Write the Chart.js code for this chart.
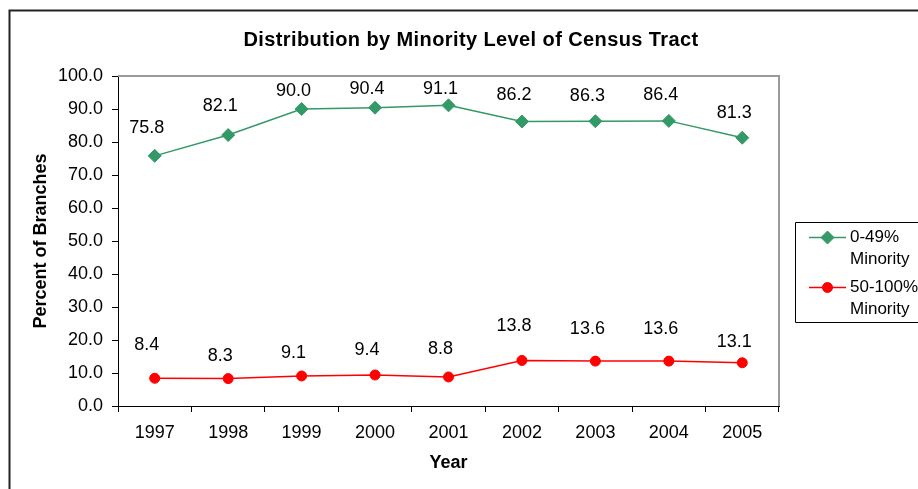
<!DOCTYPE html>
<html>
<head>
<meta charset="utf-8">
<script src="https://cdn.jsdelivr.net/npm/chart.js@4"></script>
<style>
  html, body { margin: 0; padding: 0; background: #fff; }
  canvas { display: block; }
</style>
</head>
<body>
<canvas id="chart" width="918" height="489"></canvas>
<script>
// Share of branches by census-tract minority level, 1997-2005
const years = ['1997', '1998', '1999', '2000', '2001', '2002', '2003', '2004', '2005'];
const lowMinority = [75.8, 82.1, 90.0, 90.4, 91.1, 86.2, 86.3, 86.4, 81.3];
const highMinority = [8.4, 8.3, 9.1, 9.4, 8.8, 13.8, 13.6, 13.6, 13.1];
const seriesNames = [['0-49%', 'Minority'], ['50-100%', 'Minority']];
const chartTitle = 'Distribution by Minority Level of Census Tract';

// how far (px) each value label sits above its point
const lowLabelRaise = [28, 29, 18, 19, 16, 27, 25, 26, 25];
const highLabelRaise = [33, 23, 23, 25, 28, 34, 32, 32, 21];

const FONT = '"Liberation Sans", Arial, Helvetica, sans-serif';
Chart.defaults.font.family = FONT;
Chart.defaults.font.size = 18;
Chart.defaults.color = '#000';

// white page, outer frame and chart heading
const framePlugin = {
  id: 'frame',
  beforeDraw(chart) {
    const ctx = chart.ctx;
    ctx.save();
    ctx.fillStyle = '#fff';
    ctx.fillRect(0, 0, chart.width, chart.height);
    ctx.strokeStyle = '#222';
    ctx.lineWidth = 2;
    ctx.beginPath();
    ctx.moveTo(9.5, chart.height);
    ctx.lineTo(9.5, 10.5);
    ctx.lineTo(chart.width, 10.5);
    ctx.stroke();
    ctx.fillStyle = '#000';
    ctx.font = 'bold 20px ' + FONT;
    if ('letterSpacing' in ctx) ctx.letterSpacing = '0.4px';
    ctx.textAlign = 'center';
    ctx.textBaseline = 'middle';
    ctx.fillText(chartTitle, 471, 40);
    ctx.restore();
  }
};

// grey top and right edges of the plot area
const plotEdgePlugin = {
  id: 'plotEdge',
  beforeDatasetsDraw(chart) {
    const { left, top, right, bottom } = chart.chartArea;
    const ctx = chart.ctx;
    ctx.save();
    ctx.strokeStyle = '#9a9a9a';
    ctx.lineWidth = 2;
    ctx.beginPath();
    ctx.moveTo(left, top);
    ctx.lineTo(right, top);
    ctx.lineTo(right, bottom);
    ctx.stroke();
    ctx.restore();
  }
};

// value labels above each point
const valueLabelPlugin = {
  id: 'valueLabels',
  afterDatasetsDraw(chart) {
    const ctx = chart.ctx;
    const raises = [lowLabelRaise, highLabelRaise];
    ctx.save();
    ctx.fillStyle = '#000';
    ctx.font = '18px ' + FONT;
    ctx.textAlign = 'center';
    ctx.textBaseline = 'middle';
    chart.data.datasets.forEach((ds, di) => {
      const meta = chart.getDatasetMeta(di);
      meta.data.forEach((pt, i) => {
        ctx.fillText(ds.data[i].toFixed(1), pt.x - 8, pt.y - raises[di][i]);
      });
    });
    ctx.restore();
  }
};

// boxed legend with two-line entries on the right
const sideLegendPlugin = {
  id: 'sideLegend',
  afterDraw(chart) {
    const ctx = chart.ctx;
    const boxLeft = 795.5, boxTop = 222.5, boxBottom = 322.5;
    ctx.save();
    ctx.strokeStyle = '#000';
    ctx.lineWidth = 1;
    ctx.beginPath();
    ctx.moveTo(chart.width + 2, boxTop);
    ctx.lineTo(boxLeft, boxTop);
    ctx.lineTo(boxLeft, boxBottom);
    ctx.lineTo(chart.width + 2, boxBottom);
    ctx.stroke();
    ctx.font = '17px ' + FONT;
    ctx.textAlign = 'left';
    ctx.textBaseline = 'middle';
    chart.data.datasets.forEach((ds, di) => {
      const y = 237.5 + di * 50;
      ctx.strokeStyle = ds.borderColor;
      ctx.lineWidth = ds.borderWidth;
      ctx.beginPath();
      ctx.moveTo(809, y);
      ctx.lineTo(846, y);
      ctx.stroke();
      ctx.fillStyle = ds.pointBackgroundColor;
      ctx.strokeStyle = ds.pointBorderColor;
      ctx.lineWidth = 1;
      Chart.helpers.drawPoint(ctx, {
        pointStyle: ds.pointStyle,
        radius: ds.pointRadius,
        borderWidth: 1
      }, 827.5, y);
      ctx.fillStyle = '#000';
      ds.label.forEach((line, li) => ctx.fillText(line, 850, y + li * 21.5));
    });
    ctx.restore();
  }
};

new Chart(document.getElementById('chart'), {
  type: 'line',
  data: {
    labels: years,
    datasets: [
      {
        label: seriesNames[0],
        data: lowMinority,
        borderColor: '#339966',
        backgroundColor: '#339966',
        borderWidth: 1.5,
        pointStyle: 'rectRot',
        pointRadius: 6.5,
        pointBackgroundColor: '#339966',
        pointBorderColor: '#339966',
        pointBorderWidth: 1,
        tension: 0
      },
      {
        label: seriesNames[1],
        data: highMinority,
        borderColor: '#ff0000',
        backgroundColor: '#ff0000',
        borderWidth: 1.5,
        pointStyle: 'circle',
        pointRadius: 5,
        pointBackgroundColor: '#ff0000',
        pointBorderColor: '#ff0000',
        pointBorderWidth: 1,
        tension: 0
      }
    ]
  },
  options: {
    responsive: false,
    animation: false,
    events: [],
    layout: { padding: { left: 0, top: 76, right: 139, bottom: 0 } },
    plugins: {
      legend: { display: false },
      title: { display: false },
      tooltip: { enabled: false }
    },
    scales: {
      x: {
        offset: true,
        grid: { offset: true, drawOnChartArea: false, color: '#000', tickLength: 6, lineWidth: 1 },
        border: { color: '#000', width: 1 },
        ticks: { padding: 10, color: '#000', maxRotation: 0, autoSkip: false },
        title: {
          display: true,
          text: 'Year',
          color: '#000',
          font: { size: 18, weight: 'bold' },
          padding: { top: 0, bottom: 15 }
        },
        afterFit(scale) { scale.height = 83; }
      },
      y: {
        min: 0,
        max: 100,
        grid: { drawOnChartArea: false, color: '#000', tickLength: 6, lineWidth: 1 },
        border: { color: '#000', width: 1 },
        ticks: { stepSize: 10, padding: 9, color: '#000', autoSkip: false, callback: v => v.toFixed(1) },
        title: {
          display: true,
          text: 'Percent of Branches',
          color: '#000',
          font: { size: 18, weight: 'bold' },
          padding: { top: 30, bottom: 0 }
        },
        afterFit(scale) { scale.width = 118; }
      }
    }
  },
  plugins: [framePlugin, plotEdgePlugin, valueLabelPlugin, sideLegendPlugin]
});
</script>
</body>
</html>
